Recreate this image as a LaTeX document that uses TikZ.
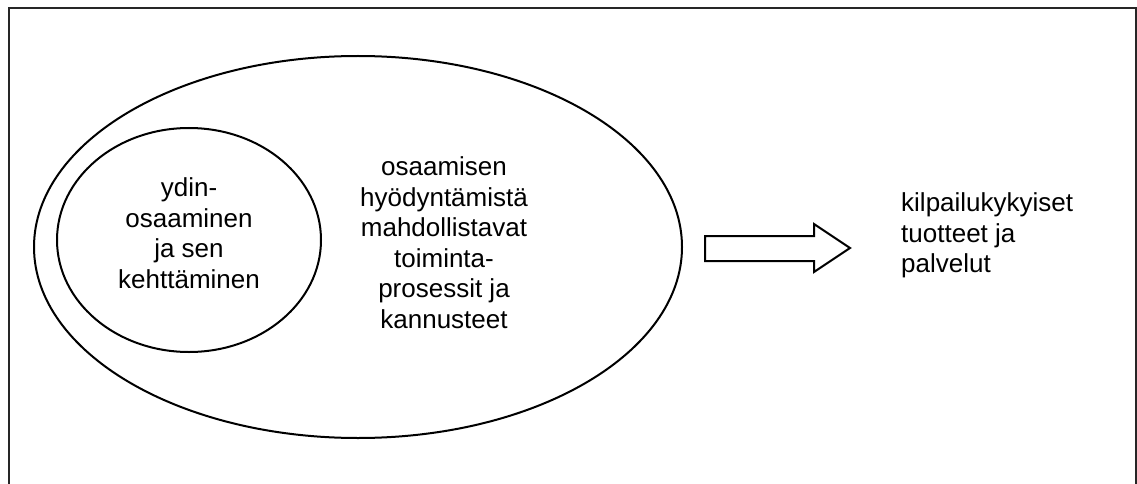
\documentclass[tikz,border=0pt]{standalone}
\usepackage{fontspec}
\setmainfont{Liberation Sans}
\usetikzlibrary{shapes.geometric}
\begin{document}
\begin{tikzpicture}[x=1pt,y=-1pt,
  frameline/.style={line width=1.5pt,draw=black!85},
  ring/.style={ellipse,draw,line width=2pt,inner sep=0pt},
  label/.style={inner sep=0pt,font=\fontsize{26}{30.5}\selectfont},
  blockarrow/.style={draw,line width=2pt,line join=miter,fill=white}]
  \useasboundingbox (0,0) rectangle (1137,484);
  % open frame (no bottom edge)
  \draw[frameline] (9,484) -- (9,8) -- (1136,8) -- (1136,484);
  % outer and inner ellipses
  \node[ring,minimum width=648pt,minimum height=382pt] (outer) at (358,247) {};
  \node[ring,minimum width=264pt,minimum height=224pt] (inner) at (189,240) {};
  % texts
  \node[label,align=center] (core) at (189,233) {ydin-\\osaaminen\\ja sen\\kehttäminen};
  \node[label,align=center] (proc) at (444,242.5) {osaamisen\\hyödyntämistä\\mahdollistavat\\toiminta-\\prosessit ja\\kannusteet};
  \node[label,align=left,anchor=west] (result) at (901,235.5) {kilpailukykyiset\\tuotteet ja\\palvelut};
  % block arrow
  \coordinate (tail) at (705,248);
  \coordinate (tip) at (850,248);
  \draw[blockarrow] (tail |- 0,236) -- (814,236) -- (814,224) -- (tip) -- (814,272) -- (814,261) -- (tail |- 0,261) -- cycle;
\end{tikzpicture}
\end{document}
